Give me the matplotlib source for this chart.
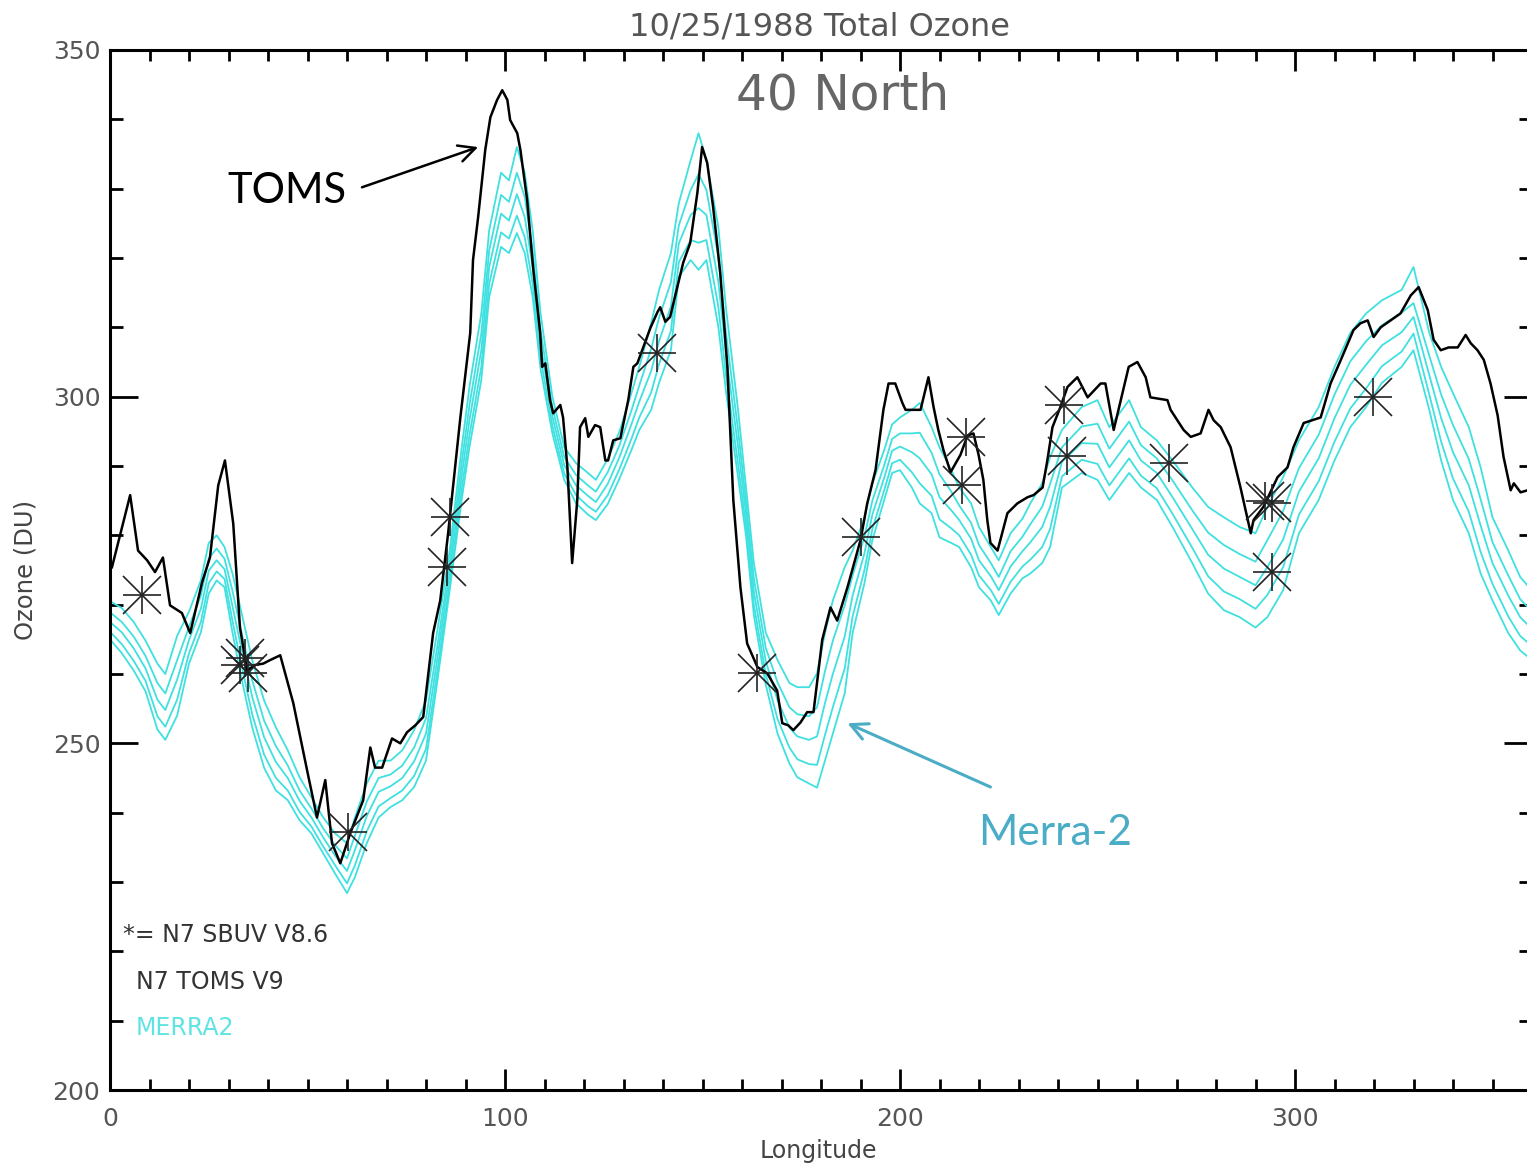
import matplotlib
matplotlib.use("Agg")
from matplotlib import pyplot as plt
from matplotlib.ticker import MultipleLocator

# N7 TOMS V9 total ozone along 40N, 10/25/1988
toms_lon = [0.5, 5.1, 7.1, 9.4, 11.4, 13.4, 15.2, 18.2, 20.3, 23.3, 25.3, 27.4, 29.1, 31.2, 32.9,
            34.7, 36.7, 38.8, 40.5, 43.1, 46.4, 49.9, 52.4, 54.5, 56.2, 58.3, 60.8, 64.1, 65.9,
            67.1, 68.9, 71.4, 73.5, 75.2, 77.3, 79.3, 81.8, 83.6, 85.6, 88.7, 91.2, 91.9, 93.2,
            95.0, 96.3, 98.0, 99.3, 100.6, 101.3, 103.1, 103.9, 105.6, 107.1, 108.9, 109.4,
            110.2, 111.4, 112.2, 114.0, 114.7, 115.8, 117.0, 118.3, 119.0, 120.3, 121.1, 122.8,
            124.1, 125.4, 126.1, 127.4, 129.2, 131.2, 132.5, 133.5, 136.8, 138.6, 139.3, 140.6,
            141.8, 145.1, 146.9, 148.7, 149.9, 151.2, 152.7, 154.5, 156.3, 157.8, 159.6, 161.3,
            163.9, 166.4, 168.9, 170.2, 171.7, 173.0, 174.8, 176.5, 178.1, 180.3, 182.4, 184.1,
            186.7, 190.0, 191.7, 193.8, 195.8, 197.1, 198.8, 200.6, 201.4, 205.2, 207.2, 208.5,
            209.7, 211.0, 212.8, 215.3, 217.1, 218.6, 219.9, 221.1, 222.1, 222.9, 224.7, 227.2,
            229.7, 232.3, 233.8, 236.1, 237.3, 238.6, 240.6, 242.4, 244.9, 247.5, 250.8, 252.0,
            254.1, 257.9, 260.1, 262.2, 263.4, 267.7, 268.5, 271.8, 273.6, 276.1, 278.1, 279.4,
            281.2, 283.7, 286.2, 288.8, 289.5, 292.0, 295.6, 298.1, 299.6, 302.2, 306.5, 309.0,
            311.6, 314.8, 316.6, 318.4, 319.9, 321.7, 324.2, 326.7, 329.3, 331.3, 333.6, 335.1,
            336.9, 338.9, 341.2, 343.2, 344.5, 346.2, 347.8, 349.5, 351.3, 352.8, 354.6, 355.4,
            357.1, 358.9]
toms_du = [275.4, 285.8, 277.8, 276.4, 274.7, 276.8, 269.9, 268.8, 265.9, 273.2, 276.8, 287.2,
           290.8, 281.7, 266.7, 260.5, 261.3, 261.5, 262.0, 262.7, 255.8, 246.1, 239.3, 244.7,
           235.6, 232.7, 237.0, 241.8, 249.4, 246.5, 246.5, 250.7, 250.0, 251.6, 252.6, 253.8,
           265.9, 270.6, 280.3, 297.0, 309.2, 319.7, 325.9, 335.6, 340.3, 342.8, 344.2, 342.8,
           339.9, 338.0, 335.6, 328.4, 318.7, 309.2, 304.3, 304.8, 299.5, 297.6, 298.8, 297.0,
           289.8, 276.0, 285.1, 295.6, 296.9, 294.2, 295.9, 295.6, 290.8, 290.8, 293.7, 294.0,
           299.5, 304.3, 304.8, 309.9, 312.2, 312.9, 310.8, 311.5, 319.3, 322.2, 329.4, 336.0,
           333.7, 327.3, 317.8, 304.3, 285.1, 272.5, 264.4, 261.0, 260.1, 257.6, 252.9, 252.6,
           251.9, 253.0, 254.5, 254.5, 264.9, 269.6, 267.7, 272.5, 279.3, 284.6, 289.4, 298.1,
           301.9, 301.9, 299.1, 298.1, 298.1, 302.8, 298.5, 295.2, 292.3, 289.1, 291.6, 294.4,
           294.7, 291.6, 288.0, 282.2, 278.9, 277.8, 283.2, 284.6, 285.5, 285.8, 286.9, 290.8,
           295.6, 298.5, 301.4, 302.8, 299.9, 301.9, 301.9, 295.2, 304.3, 305.0, 302.8, 299.9,
           299.5, 298.1, 295.2, 294.2, 294.7, 298.1, 296.6, 295.6, 292.7, 286.9, 280.3, 282.2,
           284.1, 288.4, 289.8, 292.7, 296.2, 297.0, 301.9, 305.3, 309.6, 310.6, 311.0, 308.6,
           310.0, 311.0, 312.0, 314.6, 315.8, 312.5, 308.2, 306.7, 307.1, 307.1, 308.9, 307.7,
           306.7, 305.3, 301.9, 297.3, 291.3, 286.5, 287.5, 286.2, 286.5]

# MERRA2 members on a common longitude grid
merra_lon = [0, 3, 6, 9, 12, 14, 17, 20, 23, 25, 27, 29, 31, 33, 36, 39, 42, 45, 48, 51,
             54, 57, 60, 62, 65, 68, 71, 74, 77, 80, 83, 86, 89, 91, 94, 96, 99, 101, 103, 105,
             107, 109, 112, 115, 118, 121, 123, 126, 129, 132, 134, 137, 139, 142, 144, 147, 149,
             151, 154, 156, 159, 161, 163, 166, 169, 172, 174, 177, 179, 181, 183, 186, 188, 191,
             193, 196, 198, 200, 203, 205, 208, 210, 213, 215, 218, 220, 223, 225, 228, 231, 233,
             236, 238, 241, 246, 250, 253, 258, 261, 265, 269, 274, 278, 282, 286, 290, 293, 297,
             301, 306, 310, 314, 318, 322, 327, 330, 334, 337, 340, 344, 347, 350, 354, 357, 360]
merra_a = [270.5, 269.5, 267.5, 264.8, 261.5, 260.0, 265.5, 269.0, 273.5, 278.9,
           280.0, 278.3, 274.5, 269.6, 262.0, 256.2, 252.3, 249.0, 245.1, 242.2,
           239.3, 237.0, 235.6, 239.3, 244.2, 247.5, 247.5, 249.0, 251.9, 256.2,
           266.7, 277.8, 292.5, 301.4, 312.0, 324.0, 332.3, 331.2, 336.0, 332.3,
           324.0, 312.0, 300.0, 292.7, 290.4, 289.0, 288.0, 291.0, 295.0, 300.5,
           304.3, 310.6, 315.4, 320.7, 327.9, 334.1, 338.0, 334.1, 324.5, 312.5,
           298.1, 287.0, 276.0, 266.0, 262.0, 258.7, 258.1, 258.1, 260.1, 265.9,
           270.6, 275.4, 277.8, 282.6, 287.5, 292.3, 296.0, 297.0, 298.1, 299.1,
           295.6, 292.7, 289.4, 286.9, 284.6, 281.2, 278.3, 276.4, 280.3, 282.4,
           284.6, 287.5, 291.3, 295.2, 298.5, 299.5, 295.6, 299.5, 295.6, 293.7,
           290.8, 286.9, 284.1, 282.6, 281.2, 280.3, 284.1, 288.4, 293.7, 298.5,
           304.3, 309.2, 312.0, 313.9, 315.4, 318.7, 309.2, 304.3, 300.5, 295.6,
           289.8, 282.6, 277.8, 274.0, 272.0]
merra_b = [268.9, 267.5, 265.4, 262.6, 258.7, 257.2, 262.0, 266.8, 271.3, 276.7,
           278.1, 276.6, 272.0, 266.8, 259.1, 253.3, 249.6, 246.8, 243.2, 240.6,
           237.7, 235.3, 233.4, 236.7, 241.6, 245.0, 245.5, 246.8, 249.4, 253.6,
           264.5, 276.1, 290.3, 298.8, 309.1, 321.1, 329.1, 328.1, 332.3, 328.8,
           321.1, 309.6, 298.4, 291.3, 288.7, 287.2, 286.3, 289.1, 293.0, 298.0,
           301.6, 306.9, 311.4, 316.5, 324.7, 329.8, 332.1, 329.8, 320.2, 308.9,
           295.2, 284.9, 273.8, 263.8, 258.8, 255.2, 254.2, 253.9, 255.2, 260.4,
           264.8, 269.9, 274.2, 279.8, 285.0, 290.1, 293.9, 294.7, 294.7, 294.8,
           291.9, 288.8, 286.3, 284.3, 281.8, 278.6, 276.0, 274.0, 277.7, 279.8,
           281.6, 284.1, 287.4, 292.7, 295.7, 296.1, 292.5, 296.4, 293.0, 291.1,
           287.9, 283.6, 280.4, 278.6, 277.3, 276.2, 279.3, 283.5, 289.7, 294.5,
           300.3, 305.1, 308.0, 310.3, 312.1, 313.5, 305.9, 300.3, 295.9, 291.0,
           285.2, 279.0, 274.2, 270.8, 269.0]
merra_c = [267.5, 266.0, 263.7, 260.8, 256.3, 254.8, 259.2, 264.9, 269.4, 274.9,
           276.4, 275.1, 269.8, 264.4, 256.7, 250.9, 247.3, 245.0, 241.7, 239.3,
           236.4, 233.8, 231.6, 234.6, 239.5, 243.0, 243.8, 245.0, 247.4, 251.4,
           262.7, 274.7, 288.4, 296.6, 306.7, 318.7, 326.4, 325.4, 329.2, 325.9,
           318.7, 307.6, 297.1, 290.1, 287.2, 285.7, 284.8, 287.4, 291.3, 296.0,
           299.3, 303.7, 308.0, 313.0, 322.1, 326.2, 327.2, 326.2, 316.6, 305.9,
           292.8, 283.2, 271.9, 261.9, 256.2, 252.3, 251.0, 250.5, 251.0, 255.8,
           260.0, 265.4, 271.3, 277.4, 283.0, 288.3, 292.2, 292.8, 292.0, 291.1,
           288.8, 285.5, 283.6, 282.2, 279.5, 276.4, 274.1, 272.1, 275.5, 277.7,
           279.0, 281.2, 284.1, 290.6, 293.3, 293.2, 289.8, 293.7, 290.8, 289.0,
           285.5, 280.9, 277.2, 275.2, 274.0, 272.8, 275.4, 279.4, 286.3, 291.1,
           296.9, 301.7, 304.6, 307.4, 309.3, 311.5, 303.1, 296.9, 292.0, 287.2,
           281.4, 276.0, 271.3, 268.2, 266.5]
merra_d = [266.1, 264.3, 261.9, 259.0, 253.9, 252.4, 256.3, 263.0, 267.5, 273.1,
           274.8, 273.7, 267.7, 262.0, 254.2, 248.4, 245.0, 243.2, 240.1, 238.0,
           235.1, 232.4, 229.8, 232.4, 237.3, 240.9, 242.1, 243.2, 245.3, 249.2,
           260.9, 273.2, 286.5, 294.4, 304.3, 316.3, 323.7, 322.8, 326.1, 323.0,
           316.3, 305.6, 295.8, 288.9, 285.8, 284.2, 283.4, 285.8, 289.6, 293.9,
           297.0, 300.6, 304.7, 309.5, 319.4, 322.6, 322.2, 322.6, 313.0, 302.9,
           290.3, 281.4, 270.0, 260.0, 253.5, 249.4, 247.7, 247.0, 246.9, 251.2,
           255.2, 260.8, 268.3, 275.0, 280.9, 286.5, 290.4, 290.9, 289.1, 287.5,
           285.7, 282.3, 281.0, 280.0, 277.2, 274.2, 272.1, 270.1, 273.3, 275.5,
           276.5, 278.3, 280.9, 288.5, 290.9, 290.3, 287.2, 291.1, 288.6, 286.8,
           283.1, 278.2, 274.1, 271.9, 270.8, 269.4, 271.4, 275.4, 283.0, 287.8,
           293.5, 298.3, 301.2, 304.4, 306.5, 309.1, 300.3, 293.5, 288.2, 283.4,
           277.6, 273.0, 268.3, 265.5, 264.0]
merra_e = [265.0, 263.0, 260.5, 257.5, 252.0, 250.5, 254.0, 261.5, 266.0, 271.6,
           273.5, 272.5, 266.0, 260.1, 252.3, 246.5, 243.2, 241.8, 238.9, 237.0,
           234.1, 231.2, 228.4, 230.7, 235.6, 239.3, 240.8, 241.8, 243.7, 247.5,
           259.5, 272.1, 285.0, 292.7, 302.4, 314.4, 321.6, 320.7, 323.6, 320.7,
           314.4, 304.0, 294.7, 288.0, 284.6, 283.0, 282.2, 284.5, 288.2, 292.3,
           295.2, 298.1, 302.0, 306.7, 317.3, 319.7, 318.3, 319.7, 310.1, 300.5,
           288.4, 280.0, 268.5, 258.5, 251.4, 247.1, 245.1, 244.2, 243.6, 247.5,
           251.4, 257.2, 265.9, 273.1, 279.3, 285.1, 289.0, 289.4, 286.9, 284.6,
           283.2, 279.7, 278.9, 278.3, 275.4, 272.5, 270.6, 268.5, 271.6, 273.8,
           274.5, 276.0, 278.3, 286.9, 289.0, 288.0, 285.1, 289.0, 286.9, 285.1,
           281.2, 276.0, 271.6, 269.2, 268.2, 266.7, 268.2, 272.1, 280.3, 285.1,
           290.8, 295.6, 298.5, 302.0, 304.3, 306.7, 298.1, 290.8, 285.1, 280.3,
           274.5, 270.6, 265.9, 263.4, 262.0]

# N7 SBUV V8.6 overpass values
sbuv_lon = [8.1, 32.9, 34.2, 35.0, 60.3, 85.4, 86.1, 138.5, 163.9, 190.0, 216.6, 215.8,
            241.4, 242.4, 268.0, 292.5, 294.1, 294.1, 319.7]
sbuv_du = [271.4, 261.3, 262.3, 260.2, 237.2, 275.4, 282.6, 306.3, 260.2, 279.7, 294.2, 287.2,
           298.8, 291.4, 290.5, 284.9, 284.6, 274.7, 299.9]

cyan = '#3fe0e0'
gray = '#555555'
callout = '#4bacc6'

fig = plt.figure(figsize=(15.27, 11.70), dpi=100)
ax = fig.add_axes([110 / 1527, 80 / 1170, 1422 / 1527, 1040 / 1170])

for member in (merra_a, merra_b, merra_c, merra_d, merra_e):
    ax.plot(merra_lon, member, color=cyan, lw=1.3)
ax.plot(toms_lon, toms_du, color='black', lw=1.8)
# IDL-style asterisk: plus and cross on top of each other
ax.plot(sbuv_lon, sbuv_du, ls='none', marker='+', ms=27, mew=1.2, color='#222222')
ax.plot(sbuv_lon, sbuv_du, ls='none', marker='x', ms=27, mew=1.2, color='#222222')

ax.set_xlim(0, 360)
ax.set_ylim(200, 350)
ax.xaxis.set_major_locator(MultipleLocator(100))
ax.xaxis.set_minor_locator(MultipleLocator(10))
ax.yaxis.set_major_locator(MultipleLocator(50))
ax.yaxis.set_minor_locator(MultipleLocator(10))
ax.tick_params(which='both', direction='in', top=True, right=True, width=2,
               colors='black', labelcolor=gray, labelsize=18)
ax.tick_params(axis='x', which='major', length=15, pad=12)
ax.tick_params(axis='x', which='minor', length=8)
ax.tick_params(axis='y', which='major', length=20, pad=7)
ax.tick_params(axis='y', which='minor', length=9.5)
for s in ax.spines.values():
    s.set_linewidth(2.2)

fig.text(0.537, 0.970, '10/25/1988 Total Ozone', ha='center', va='baseline',
         fontsize=23, color=gray)
fig.text(0.552, 0.906, '40 North', ha='center', va='baseline', fontsize=35, color='#666666')
fig.text(0.536, 0.010, 'Longitude', ha='center', va='baseline', fontsize=17, color='#444444')
fig.text(0.017, 0.513, 'Ozone (DU)', ha='center', va='center', rotation=90,
         fontsize=17.5, color='#444444')

ax.text(3.3, 221.3, '*= N7 SBUV V8.6', fontsize=17, color='#333333', va='baseline')
ax.text(6.6, 214.6, 'N7 TOMS V9', fontsize=17, color='#333333', va='baseline')
ax.text(6.6, 208.0, 'MERRA2', fontsize=17, color='#5fe3e3', va='baseline')

ax.text(29.6, 327.9, 'TOMS', fontsize=30, family='Lato', color='black', va='baseline')
ax.annotate('', xy=(93.2, 336.0), xytext=(63.8, 330.2),
            arrowprops=dict(arrowstyle='->', color='black', lw=1.8,
                            mutation_scale=30, shrinkA=0, shrinkB=0))
ax.text(219.9, 235.3, 'Merra-2', fontsize=30.5, family='Lato', color=callout, va='baseline')
ax.annotate('', xy=(186.7, 252.9), xytext=(222.9, 243.7),
            arrowprops=dict(arrowstyle='->', color=callout, lw=2.2,
                            mutation_scale=30, shrinkA=0, shrinkB=0))

fig.savefig('out.png', dpi=100)
